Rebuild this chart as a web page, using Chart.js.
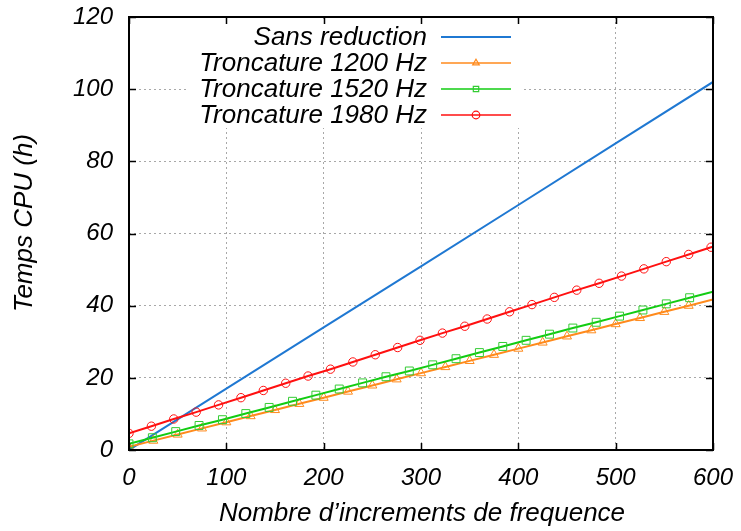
<!DOCTYPE html>
<html>
<head>
<meta charset="utf-8">
<script src="https://cdn.jsdelivr.net/npm/chart.js@4/dist/chart.umd.min.js"></script>
<style>
  html, body { margin: 0; padding: 0; background: #fff; }
  #chart { display: block; }
</style>
</head>
<body>
<canvas id="chart" width="741" height="531"></canvas>
<script>
// values
var labels = ['Sans reduction', 'Troncature 1200 Hz', 'Troncature 1520 Hz', 'Troncature 1980 Hz'];

var sansX = [0, 100, 200, 300, 400, 500, 600];
var sansY = [0, 17.0, 34.0, 50.9, 67.9, 85.0, 102.0];

var t1200X = [0, 25, 50, 75, 100, 125, 150, 175, 200, 225, 250, 275, 300, 325, 350, 375, 400, 425, 450, 475, 500, 525, 550, 575, 600];
var t1200Y = [0.9, 2.6, 4.3, 6.0, 7.7, 9.4, 11.1, 12.8, 14.5, 16.2, 17.9, 19.6, 21.3, 23.0, 24.7, 26.4, 28.1, 29.8, 31.5, 33.2, 34.9, 36.6, 38.3, 40.0, 41.7];

var t1520X = [0, 24, 48, 72, 96, 120, 144, 168, 192, 216, 240, 264, 288, 312, 336, 360, 384, 408, 432, 456, 480, 504, 528, 552, 576, 600];
var t1520Y = [1.7, 3.4, 5.1, 6.8, 8.4, 10.1, 11.8, 13.5, 15.2, 16.9, 18.6, 20.3, 21.9, 23.6, 25.3, 27.0, 28.7, 30.4, 32.1, 33.8, 35.4, 37.1, 38.8, 40.5, 42.2, 43.9];

var t1980X = [0, 23, 46, 69, 92, 115, 138, 161, 184, 207, 230, 253, 276, 299, 322, 345, 368, 391, 414, 437, 460, 483, 506, 529, 552, 575, 598, 600];
var t1980Y = [4.6, 6.6, 8.6, 10.5, 12.5, 14.5, 16.5, 18.5, 20.5, 22.4, 24.4, 26.4, 28.4, 30.4, 32.4, 34.3, 36.3, 38.3, 40.3, 42.3, 44.3, 46.2, 48.2, 50.2, 52.2, 54.2, 56.2, 56.3];

var xTitle = "Nombre d\u2019increments de frequence";
var yTitle = 'Temps CPU (h)';

var FONT = "'Liberation Sans', Arial, sans-serif";

function pts(xs, ys) {
  return xs.map(function (x, i) { return {x: x, y: ys[i]}; });
}

// the last point only closes the line at x = 600, gnuplot puts no marker there
function markerRadius(r) {
  return function (ctx) {
    return ctx.dataIndex === ctx.dataset.data.length - 1 ? 0 : r;
  };
}

var datasets = [
  {label: labels[0], data: pts(sansX, sansY), borderColor: '#1f78d2', borderWidth: 2,
   pointRadius: 0, pointStyle: false, order: 4},
  {label: labels[1], data: pts(t1200X, t1200Y), borderColor: '#ff8a1c', borderWidth: 2,
   pointStyle: 'triangle', pointRadius: markerRadius(5.2), pointBorderWidth: 1,
   pointBorderColor: '#ff8a1c', pointBackgroundColor: 'rgba(0,0,0,0)', order: 3},
  {label: labels[2], data: pts(t1520X, t1520Y), borderColor: '#12cc12', borderWidth: 2,
   pointStyle: 'rect', pointRadius: markerRadius(5.6), pointBorderWidth: 1,
   pointBorderColor: '#33cc33', pointBackgroundColor: 'rgba(0,0,0,0)', order: 2},
  {label: labels[3], data: pts(t1980X, t1980Y), borderColor: '#ff1010', borderWidth: 2,
   pointStyle: 'circle', pointRadius: markerRadius(4.2), pointBorderWidth: 1,
   pointBorderColor: '#ff1010', pointBackgroundColor: 'rgba(0,0,0,0)', order: 1}
];
datasets.forEach(function (d) { d.showLine = true; d.tension = 0; });

// legend box, frame, inward ticks and axis titles, gnuplot style
var gnuplotDecor = {
  id: 'gnuplotDecor',
  afterDatasetsDraw: function (chart) {
    var ctx = chart.ctx;
    ctx.save();
    // legend with opaque box
    ctx.fillStyle = '#fff';
    ctx.fillRect(186, 22, 336, 106);
    var rows = [37, 63, 89, 115];
    ctx.font = 'italic 26px ' + FONT;
    ctx.textAlign = 'right';
    ctx.textBaseline = 'middle';
    chart.data.datasets.forEach(function (d, i) {
      var y = rows[i];
      ctx.fillStyle = '#000';
      ctx.fillText(d.label, 427, y + 1);
      ctx.strokeStyle = d.borderColor;
      ctx.lineWidth = i === 0 ? 2 : 1.5;
      ctx.setLineDash([]);
      ctx.beginPath();
      ctx.moveTo(441, y);
      ctx.lineTo(511, y);
      ctx.stroke();
      if (d.pointStyle) {
        ctx.strokeStyle = d.pointBorderColor;
        ctx.fillStyle = 'rgba(0,0,0,0)';
        ctx.lineWidth = 1.2;
        Chart.helpers.drawPoint(ctx, {pointStyle: d.pointStyle, radius: 3.8, rotation: 0, borderWidth: 1.2}, 476, y);
      }
    });
    ctx.restore();
  },
  afterDraw: function (chart) {
    var ctx = chart.ctx, a = chart.chartArea;
    var sx = chart.scales.x, sy = chart.scales.y;
    ctx.save();
    ctx.strokeStyle = '#000';
    ctx.lineWidth = 1.5;
    ctx.setLineDash([]);
    ctx.beginPath();
    sx.ticks.forEach(function (t) {
      var px = Math.round(sx.getPixelForValue(t.value)) + 0.5;
      ctx.moveTo(px, a.bottom); ctx.lineTo(px, a.bottom - 7);
      ctx.moveTo(px, a.top); ctx.lineTo(px, a.top + 7);
    });
    sy.ticks.forEach(function (t) {
      var py = Math.round(sy.getPixelForValue(t.value)) + 0.5;
      ctx.moveTo(a.left, py); ctx.lineTo(a.left + 7, py);
      ctx.moveTo(a.right, py); ctx.lineTo(a.right - 7, py);
    });
    ctx.stroke();
    ctx.lineWidth = 2;
    ctx.strokeRect(a.left, a.top, a.right - a.left, a.bottom - a.top);

    ctx.fillStyle = '#000';
    ctx.font = 'italic 26px ' + FONT;
    ctx.textAlign = 'center';
    ctx.textBaseline = 'middle';
    ctx.fillText(xTitle, 422, 514);
    ctx.translate(25, 223);
    ctx.rotate(-Math.PI / 2);
    ctx.fillText(yTitle, 0, 0);
    ctx.restore();
  }
};

var gridColor = function (c) {
  return (c.tick && (c.tick.value === c.scale.min || c.tick.value === c.scale.max)) ? 'rgba(0,0,0,0)' : '#a8a8a8';
};

// fixed axis boxes; drop the label overhang padding so the plot area is set by layout.padding
function fixBox(size) {
  return function (s) {
    if (s.isHorizontal()) { s.height = size; } else { s.width = size; }
    s.paddingTop = 0; s.paddingBottom = 0; s.paddingLeft = 0; s.paddingRight = 0;
  };
}

new Chart(document.getElementById('chart').getContext('2d'), {
  type: 'scatter',
  data: {datasets: datasets},
  options: {
    responsive: false,
    animation: false,
    layout: {padding: {top: 17, right: 28, left: 0, bottom: 0}},
    plugins: {legend: {display: false}, tooltip: {enabled: false}},
    scales: {
      x: {
        type: 'linear', min: 0, max: 600,
        afterFit: fixBox(81),
        ticks: {stepSize: 100, color: '#000', padding: 14, font: {family: FONT, size: 24, style: 'italic'}},
        grid: {color: gridColor, lineWidth: 1, drawTicks: false},
        border: {display: false, dash: [2, 3]}
      },
      y: {
        type: 'linear', min: 0, max: 120,
        afterFit: fixBox(129),
        ticks: {stepSize: 20, color: '#000', padding: 16, font: {family: FONT, size: 24, style: 'italic'}},
        grid: {color: gridColor, lineWidth: 1, drawTicks: false},
        border: {display: false, dash: [2, 3]}
      }
    }
  },
  plugins: [gnuplotDecor]
});
</script>
</body>
</html>
